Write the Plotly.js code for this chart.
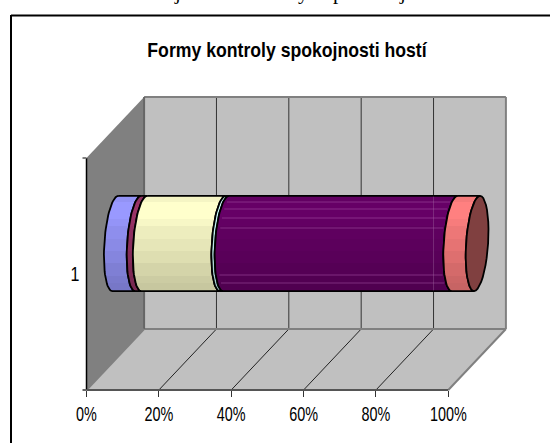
<!DOCTYPE html>
<html>
<head>
<meta charset="utf-8">
<script src="https://cdn.plot.ly/plotly-3.0.1.min.js"></script>
<style>html,body{margin:0;padding:0;background:#fff;overflow:hidden}#c{width:550px;height:443px}</style>
</head>
<body>
<div id="c"></div>
<script>
// ---- data (share of 100 %) ----
const categoryLabel = ['1'];
const seriesValues = [6.3, 1.7, 21.7, 0.9, 63.2, 6.2];
const seriesColors = ['#9999FF', '#993366', '#FFFFCC', '#CCFFFF', '#660066', '#FF8080'];
const xTickValues = [0, 20, 40, 60, 80, 100];
const xTickLabels = ['0%', '20%', '40%', '60%', '80%', '100%'];
const chartTitle = 'Formy kontroly spokojnosti hostí';
const clippedGlyphs = ['j', 'y', 'p', 'j'];
const clippedGlyphX = [177, 303, 338, 402];

// ---- page-to-axis mapping of the oblique projection ----
const W = 550, H = 443;
const px0 = 86.5, px100 = 448.3, pyBase = 390, pyTop = 158;
const ux = (px100 - px0) / 100, uy = pyBase - pyTop;
const depthX = 57.6 / ux, depthY = 61 / uy;          // wall depth in axis units
const X = p => (p - px0) / ux, Y = p => (pyBase - p) / uy;   // pixel -> axis helpers
const rx = 11 / ux, ry = 47.6 / uy, skew = 3 / ux;   // cylinder cross-section
const barY = 0.5 + depthY / 2, barShift = depthX / 2;

function poly(pts, fill, line, lw) {
  return {type: 'path', layer: 'below', xref: 'x', yref: 'y',
    path: 'M' + pts.map(p => p[0] + ',' + p[1]).join('L') + 'Z',
    fillcolor: fill, line: {color: line || fill, width: lw === undefined ? 0 : lw}};
}
function seg(x0, y0, x1, y1, color, width) {
  return {type: 'line', layer: 'below', xref: 'x', yref: 'y', x0, y0, x1, y1, line: {color, width}};
}
const paperLine = (x0, y0, x1, y1, c, w) => seg(X(x0), Y(y0), X(x1), Y(y1), c, w);

const shapes = [
  poly([[0, 0], [depthX, depthY], [depthX, 1 + depthY], [0, 1]], '#808080'),
  poly([[depthX, depthY], [100 + depthX, depthY], [100 + depthX, 1 + depthY], [depthX, 1 + depthY]], '#C0C0C0'),
  poly([[0, 0], [100, 0], [100 + depthX, depthY], [depthX, depthY]], '#C0C0C0'),
];
xTickValues.slice(1, -1).forEach(v => {
  shapes.push(seg(v + depthX, depthY, v + depthX, 1 + depthY, '#333333', 1));
  shapes.push(seg(v, 0, v + depthX, depthY, '#222222', 1));
});
shapes.push(seg(depthX, 1 + depthY, 100 + depthX, 1 + depthY, '#808080', 2));
shapes.push(seg(100 + depthX, depthY, 100 + depthX, 1 + depthY, '#808080', 2));
shapes.push(seg(depthX, depthY, 100 + depthX, depthY, '#808080', 2));
shapes.push(seg(depthX, depthY, depthX, 1 + depthY, '#666666', 2));
shapes.push(seg(0, 0, depthX, depthY, '#808080', 2));
shapes.push(seg(100, 0, 100 + depthX, depthY, '#808080', 2));
shapes.push(seg(0, 0, 0, 1, '#000000', 1.5));
shapes.push(seg(0, 0, 100, 0, '#555555', 2));
shapes.push(seg(-4 / ux, 0, 0, 0, '#666666', 2));
shapes.push(seg(-4 / ux, 1, 0, 1, '#808080', 2));
// chart-area border, open on the right and at the bottom as in the source
shapes.push(paperLine(11, 15.5, W, 15.5, '#000000', 2));
shapes.push(paperLine(11, 15, 11, H, '#000000', 2));

// ---- bar drawn from the values ----
function shade(hex, f) {
  const n = parseInt(hex.slice(1), 16);
  const c = [n >> 16, (n >> 8) & 255, n & 255].map(v => Math.round(v * f));
  return 'rgb(' + c.join(',') + ')';
}
const bandStops = [[0, .78], [.08, .80], [.16, .83], [.30, .87], [.42, .90], [.55, .93], [.68, .97], [.76, 1], [.87, 1], [.94, .96], [1, .92]];
function gradient(hex) {
  const s = [];
  bandStops.forEach((b, i) => {
    if (i) s.push([b[0], shade(hex, bandStops[i - 1][1])]);
    s.push([b[0], shade(hex, b[1])]);
  });
  return {type: 'vertical', colorscale: s};
}
function arc(v, from, to) {
  const xs = [], ys = [];
  for (let i = 0; i <= 40; i++) {
    const t = from + (to - from) * i / 40;
    xs.push(v + barShift + rx * Math.cos(t) + skew * Math.sin(t));
    ys.push(barY + ry * Math.sin(t));
  }
  return [xs, ys];
}
const traces = [];
let start = 0;
seriesValues.forEach((val, i) => {
  const end = start + val;
  const a = arc(start, Math.PI / 2, 3 * Math.PI / 2);   // top -> left -> bottom at segment start
  const b = arc(end, 3 * Math.PI / 2, Math.PI / 2);     // bottom -> left -> top at segment end
  traces.push({type: 'scatter', mode: 'lines', x: a[0].concat(b[0], [a[0][0]]), y: a[1].concat(b[1], [a[1][0]]),
    fill: 'toself', fillgradient: gradient(seriesColors[i]),
    line: {color: '#000000', width: 1.8}, hoverinfo: 'skip', showlegend: false});
  start = end;
});
const capX = arc(100, 0, 2 * Math.PI);
traces.push({type: 'scatter', mode: 'lines', x: capX[0], y: capX[1], fill: 'toself',
  fillcolor: '#804040', line: {color: '#000000', width: 1.8}, hoverinfo: 'skip', showlegend: false});

// faint gridline and band seams showing through the dark segment
const purpleStart = seriesValues.slice(0, 4).reduce((a, b) => a + b, 0);
const purpleEnd = purpleStart + seriesValues[4];
[202, 209, 218, 228, 275, 283].forEach(py => {
  const frac = (Y(py) - barY) / ry;
  const half = rx * Math.sqrt(1 - frac * frac);
  traces.push({type: 'scatter', mode: 'lines',
    x: [purpleStart + barShift + skew * frac - half + 1, purpleEnd + barShift + skew * frac - half - 0.5],
    y: [Y(py), Y(py)], line: {color: 'rgba(190,110,190,0.4)', width: 1}, hoverinfo: 'skip', showlegend: false});
});
traces.push({type: 'scatter', mode: 'lines', x: [80 + depthX, 80 + depthX],
  y: [barY - ry + 0.003, barY + ry - 0.003], line: {color: 'rgba(170,120,170,0.35)', width: 1}, hoverinfo: 'skip', showlegend: false});

const fontFamily = '"Liberation Sans",Arial,sans-serif';
const layout = {
  width: W, height: H, autosize: false,
  margin: {l: 0, r: 0, t: 0, b: 0, pad: 0},
  paper_bgcolor: '#ffffff', plot_bgcolor: 'rgba(0,0,0,0)', showlegend: false,
  title: {text: '<b>' + chartTitle + '</b>', x: 287 / W, xanchor: 'center', xref: 'paper',
    y: 1 - 50 / H, yanchor: 'middle', yref: 'paper',
    font: {family: fontFamily, size: 21, color: '#000000'}},
  xaxis: {range: [X(0), X(W)], fixedrange: true, showgrid: false, zeroline: false, showline: false,
    anchor: 'free', position: (H - pyBase) / H,
    tickmode: 'array', tickvals: xTickValues, ticktext: xTickLabels,
    ticks: 'outside', ticklen: 6, tickwidth: 1, tickcolor: '#333333',
    tickfont: {family: fontFamily, size: 20, color: '#000000'}},
  yaxis: {range: [Y(H), Y(0)], fixedrange: true, showgrid: false, zeroline: false, showline: false,
    anchor: 'free', position: px0 / W,
    tickmode: 'array', tickvals: [0.5], ticktext: categoryLabel, ticks: 'outside', ticklen: 3, tickcolor: 'rgba(0,0,0,0)',
    tickfont: {family: fontFamily, size: 20, color: '#000000'}},
  shapes,
  annotations: clippedGlyphs.map((g, i) => ({
    text: g, x: clippedGlyphX[i] / W, xref: 'paper', xanchor: 'center',
    y: 1 + 2 / H, yref: 'paper', yanchor: 'middle', yshift: 6, showarrow: false,
    font: {family: '"Liberation Serif","Times New Roman",serif', size: 21, color: '#000000'}
  }))
};
// the source font is a condensed Arial: squeeze the installed face to the same widths
function condense(sel, factor) {
  document.querySelectorAll(sel).forEach(t => {
    t.setAttribute('textLength', t.getComputedTextLength() * factor);
    t.setAttribute('lengthAdjust', 'spacingAndGlyphs');
  });
}
Plotly.newPlot('c', traces, layout, {displayModeBar: false, staticPlot: true}).then(() => {
  condense('.xtick text', 0.72);
  condense('.ytick text', 0.8);
  condense('.gtitle', 0.84);
});
</script>
</body>
</html>
